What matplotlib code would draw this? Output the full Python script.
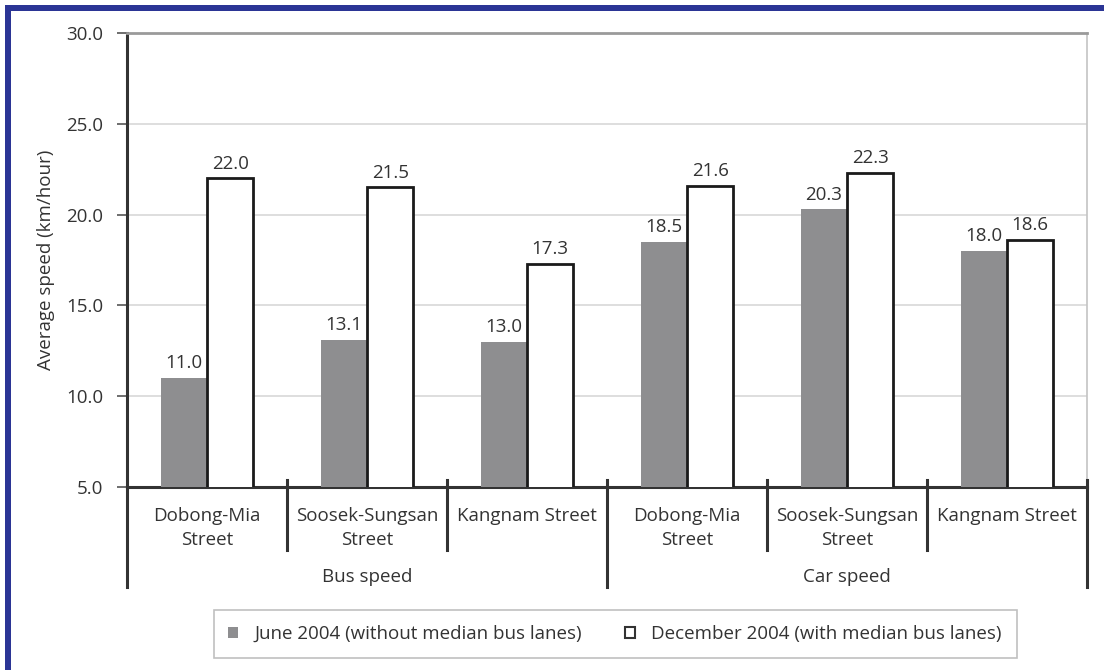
import matplotlib
matplotlib.use("Agg")
import matplotlib.pyplot as plt
from matplotlib.patches import Patch, Rectangle
from matplotlib.lines import Line2D
import matplotlib.transforms as mtransforms

plt.rcParams['font.family'] = ['Open Sans', 'DejaVu Sans']

# Data
streets = ["Dobong-Mia\nStreet", "Soosek-Sungsan\nStreet", "Kangnam Street",
           "Dobong-Mia\nStreet", "Soosek-Sungsan\nStreet", "Kangnam Street"]
groups = ["Bus speed", "Car speed"]
june_2004 = [11.0, 13.1, 13.0, 18.5, 20.3, 18.0]
dec_2004 = [22.0, 21.5, 17.3, 21.6, 22.3, 18.6]
series_labels = ["June 2004 (without median bus lanes)",
                 "December 2004 (with median bus lanes)"]
yticks = [5.0, 10.0, 15.0, 20.0, 25.0, 30.0]

W, H = 1104, 670
FS = 13.5
TXT = "#333333"
fig = plt.figure(figsize=(W / 100, H / 100), dpi=100)
fig.patch.set_facecolor("white")

# Blue frame along top and left edges
frame_col = "#2b3595"
fig.add_artist(Rectangle((5 / W, 0), 6 / W, 1 - 5 / H, transform=fig.transFigure,
                         facecolor=frame_col, edgecolor="none"))
fig.add_artist(Rectangle((5 / W, 1 - 11 / H), 1 - 5 / W, 6 / H, transform=fig.transFigure,
                         facecolor=frame_col, edgecolor="none"))

ax_l, ax_r, ax_t, ax_b = 127, 1087, 33, 487
ax = fig.add_axes([ax_l / W, 1 - ax_b / H, (ax_r - ax_l) / W, (ax_b - ax_t) / H])

dark = "#333333"
gray_fill = "#8e8e90"
n = len(streets)
centers = [i + 0.5 for i in range(n)]
bw = 0.29

ax.bar([c - bw / 2 for c in centers], june_2004, width=bw, color=gray_fill,
       edgecolor="none", zorder=3)
ax.bar([c + bw / 2 for c in centers], dec_2004, width=bw, color="white",
       edgecolor="#1a1a1a", linewidth=2.0, zorder=3)

for c, v in zip(centers, june_2004):
    ax.annotate(f"{v:.1f}", (c - bw / 2, v), xytext=(0, 4), textcoords="offset points",
                ha="center", va="bottom", fontsize=FS, color=TXT)
for c, v in zip(centers, dec_2004):
    ax.annotate(f"{v:.1f}", (c + bw / 2, v), xytext=(0, 4), textcoords="offset points",
                ha="center", va="bottom", fontsize=FS, color=TXT)

ax.set_xlim(0, n)
ax.set_ylim(5, 30)
ax.set_yticks(yticks)
ax.set_yticklabels([f"{t:.1f}" for t in yticks], fontsize=FS, color=TXT)
ax.tick_params(axis="y", direction="out", length=7, width=1.2, color="#555555", pad=10)
ax.set_xticks([])

ax.grid(axis="y", color="#d8d8d8", linewidth=1.2, zorder=0)
ax.set_axisbelow(True)

ax.spines["right"].set_color("#c4c4c4")
ax.spines["right"].set_linewidth(1.2)
ax.spines["top"].set_color("#9a9a9a")
ax.spines["top"].set_linewidth(2.0)
ax.spines["left"].set_color(dark)
ax.spines["left"].set_linewidth(2.2)
ax.spines["bottom"].set_color(dark)
ax.spines["bottom"].set_linewidth(2.2)

ax.set_ylabel("Average speed (km/hour)", fontsize=FS, color=TXT, labelpad=8)

# Category separators below the axis
trans = mtransforms.blended_transform_factory(ax.transData, ax.transAxes)
px = 1.0 / (ax_b - ax_t)
for i in range(n + 1):
    outer = i % 3 == 0
    y0 = 7 * px
    y1 = -(100 if outer else 63) * px
    if i == 0:
        y0 = 0
    ax.add_line(Line2D([i, i], [y0, y1], transform=trans, color=dark,
                       linewidth=2.2, clip_on=False, zorder=4))

for c, s in zip(centers, streets):
    ax.text(c, -0.045, s, transform=trans, ha="center", va="top", fontsize=FS,
            color=TXT, linespacing=1.4)
for g, name in enumerate(groups):
    ax.text(1.5 + 3 * g, -0.198, name, transform=trans, ha="center", va="center",
            fontsize=FS, color=TXT)

# Legend
handles = [Patch(facecolor=gray_fill, edgecolor="none"),
           Patch(facecolor="white", edgecolor="#333333", linewidth=1.5)]
leg = fig.legend(handles, series_labels, loc="center",
                 bbox_to_anchor=(615 / W, 1 - 634 / H), ncol=2, fontsize=FS,
                 frameon=True, fancybox=False, handlelength=0.55, handleheight=0.55,
                 handletextpad=0.85, columnspacing=2.3, borderpad=0.78,
                 labelcolor=TXT)
leg.get_frame().set_edgecolor("#b0b0b0")
leg.get_frame().set_linewidth(1.2)

fig.savefig("out.png", dpi=100, facecolor="white")
